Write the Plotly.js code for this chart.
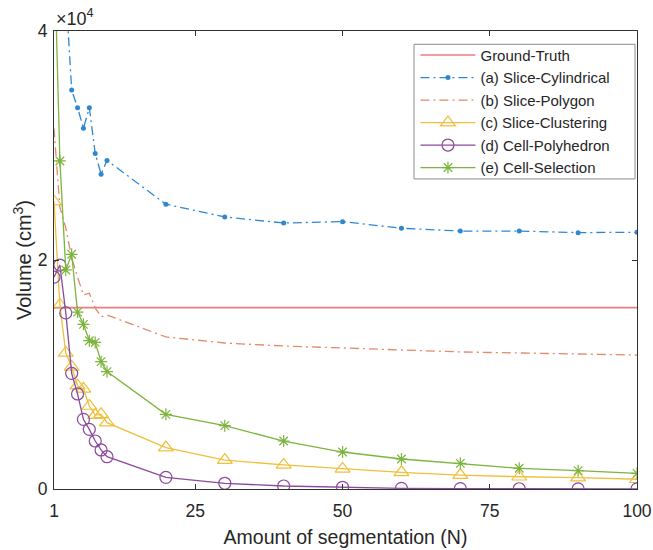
<!DOCTYPE html>
<html>
<head>
<meta charset="utf-8">
<script src="https://cdn.plot.ly/plotly-3.0.1.min.js"></script>
<style>
  html, body { margin: 0; padding: 0; background: #fff; }
  #chart { width: 653px; height: 550px; }
</style>
</head>
<body>
<div id="chart"></div>
<script>
// Number of segments used for every method
const segN = [1, 2, 3, 4, 5, 6, 7, 8, 9, 10, 20, 30, 40, 50, 60, 70, 80, 90, 100];

// Reference volume (constant over N)
const groundTruthN = [1, 100];
const groundTruth = [15840, 15840];

// Estimated volumes per method (cm^3)
const sliceCylindrical = [56000, 49000, 43500, 34850, 33300, 31500, 33300, 29300, 27500, 28700,
                          24870, 23760, 23230, 23350, 22770, 22530, 22530, 22390, 22420];
const slicePolygon = [31500, 24600, 22800, 20200, 18500, 16950, 17100, 15800, 15050, 15200,
                      13280, 12750, 12490, 12310, 12140, 11970, 11880, 11790, 11700];
const sliceClustering = [25100, 16070, 11880, 10660, 9020, 8750, 7250, 6460, 6520, 5790,
                         3620, 2530, 2100, 1750, 1460, 1220, 1070, 990, 850];
const cellPolyhedron = [18500, 19560, 15380, 10100, 8300, 6080, 5210, 4190, 3410, 2820,
                        1020, 500, 260, 150, 60, 30, 20, 10, 5];
const cellSelection = [48000, 28650, 19130, 20500, 15450, 14380, 12950, 12800, 11120, 10250,
                       6520, 5530, 4190, 3230, 2620, 2240, 1810, 1600, 1370];

const xTicks = [1, 25, 50, 75, 100];
const yTicks = [0, 20000, 40000];
const yTickText = ['0', '2', '4'];

const FONT = 'Liberation Sans, Arial, Helvetica, sans-serif';
const TEXT = '#262626';
const dashDot = '9px,4px,2px,4px';

const traces = [
  {
    x: groundTruthN, y: groundTruth, name: 'Ground-Truth', mode: 'lines',
    line: { color: '#f07c80', width: 1.6 }
  },
  {
    x: segN, y: sliceCylindrical, name: '(a) Slice-Cylindrical', mode: 'lines+markers',
    line: { color: '#2f87d2', width: 1.3, dash: dashDot },
    marker: { symbol: 'circle', size: 5, color: '#2f87d2' }
  },
  {
    x: segN, y: slicePolygon, name: '(b) Slice-Polygon', mode: 'lines',
    line: { color: '#e2896a', width: 1.3, dash: dashDot }
  },
  {
    x: segN, y: sliceClustering, name: '(c) Slice-Clustering', mode: 'lines+markers',
    line: { color: '#efbf3c', width: 1.3 },
    marker: { symbol: 'triangle-up-open', size: 13, color: '#efbf3c', line: { width: 1.2 } }
  },
  {
    x: segN, y: cellPolyhedron, name: '(d) Cell-Polyhedron', mode: 'lines+markers',
    line: { color: '#8a4a9e', width: 1.3 },
    marker: { symbol: 'circle-open', size: 12, color: '#8a4a9e', line: { width: 1.2 } }
  },
  {
    x: segN, y: cellSelection, name: '(e) Cell-Selection', mode: 'lines+markers',
    line: { color: '#7db43e', width: 1.3 },
    marker: { symbol: 'asterisk-open', size: 10, color: '#7db43e', line: { width: 1.2 } }
  }
];

const axisCommon = {
  showgrid: false,
  zeroline: false,
  showline: true,
  linecolor: '#333333',
  linewidth: 1,
  mirror: 'ticks',
  ticks: 'inside',
  ticklen: 5,
  tickcolor: '#333333',
  tickfont: { family: FONT, size: 17.5, color: TEXT }
};

const layout = {
  width: 653,
  height: 550,
  margin: { l: 54, r: 16, t: 31, b: 61 },
  paper_bgcolor: '#ffffff',
  plot_bgcolor: '#ffffff',
  showlegend: true,
  xaxis: Object.assign({}, axisCommon, {
    range: [1, 100],
    tickmode: 'array',
    tickvals: xTicks,
    ticktext: xTicks.map(String),
    ticklabelstandoff: 6,
    title: { text: 'Amount of segmentation (N)', font: { family: FONT, size: 19.5, color: TEXT }, standoff: 10 }
  }),
  yaxis: Object.assign({}, axisCommon, {
    range: [0, 40000],
    tickmode: 'array',
    tickvals: yTicks,
    ticktext: yTickText,
    ticklabelstandoff: 2,
    title: { text: 'Volume (cm<sup>3</sup>)', font: { family: FONT, size: 20, color: TEXT }, standoff: 0 }
  }),
  legend: {
    x: 0.62, y: 0.983, xanchor: 'left', yanchor: 'top',
    bgcolor: 'rgba(0,0,0,0)',
    borderwidth: 0,
    font: { family: FONT, size: 15, color: TEXT },
    itemwidth: 55,
    tracegroupgap: 0
  },
  shapes: [
    // legend frame
    {
      type: 'rect', xref: 'paper', yref: 'paper', layer: 'above',
      x0: 0.6175, x1: 0.9966, y0: 0.677, y1: 0.971,
      line: { color: '#8c8c8c', width: 1 },
      fillcolor: '#ffffff'
    }
  ],
  annotations: [
    {
      xref: 'paper', yref: 'paper', x: 0, y: 1, xanchor: 'left', yanchor: 'bottom',
      text: '×10<sup>4</sup>', showarrow: false,
      font: { family: FONT, size: 18, color: TEXT }
    }
  ]
};

Plotly.newPlot('chart', traces, layout, { displayModeBar: false, staticPlot: true });
</script>
</body>
</html>
